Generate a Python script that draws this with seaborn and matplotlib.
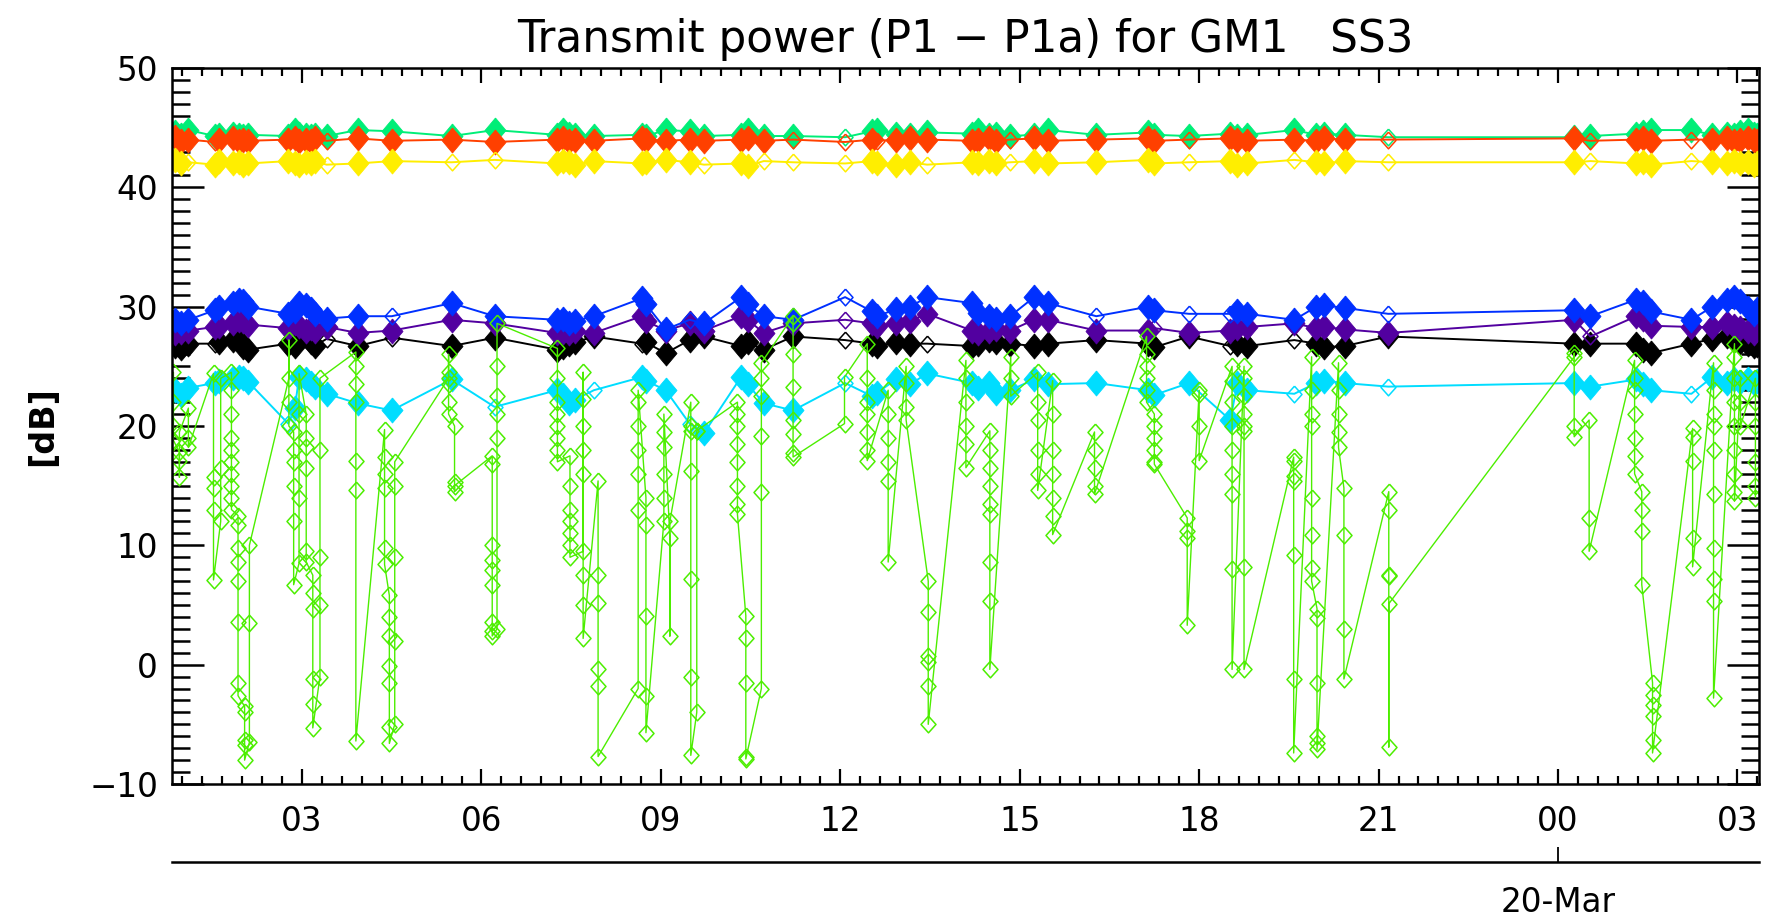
import numpy as np
import pandas as pd
import matplotlib
matplotlib.use("Agg")
import matplotlib.pyplot as plt
import matplotlib.dates as mdates
from matplotlib.ticker import MultipleLocator, FixedLocator, NullLocator, FuncFormatter
from matplotlib.path import Path
import seaborn as sns

# ---------------- data ----------------
DAY0 = pd.Timestamp("2009-03-19")
TITLE = "Transmit power (P1 \u2212 P1a) for GM1   SS3"
Y_LABEL = "[dB]"
DATE_LABEL = "20-Mar"

# sample times (hours since 19-Mar 00:00) shared by the seven steady channels
main_hours = [0.87, 0.98, 1.10, 1.54, 1.62, 1.85, 1.94, 2.02, 2.10, 2.77, 2.88, 2.95,
              3.06, 3.15, 3.21, 3.41, 3.93, 4.50, 5.50, 6.22, 7.26, 7.36, 7.46, 7.56,
              7.88, 8.68, 8.75, 9.08, 9.48, 9.72, 10.34, 10.45, 10.72, 11.21, 12.08, 12.53,
              12.62, 12.93, 13.17, 13.45, 14.20, 14.30, 14.49, 14.60, 14.84, 15.24, 15.47, 16.28,
              17.15, 17.25, 17.83, 18.52, 18.64, 18.80, 19.59, 19.96, 20.08, 20.43, 21.16, 24.27,
              24.54, 25.31, 25.42, 25.55, 26.23, 26.58, 26.82, 26.95, 27.05, 27.17, 27.27, 27.33]

green_vals = [44.6, 44.4, 44.8, 44.3, 44.4, 44.5, 44.4, 44.3, 44.4, 44.3, 44.8, 44.5,
              44.4, 44.3, 44.4, 44.3, 44.8, 44.7, 44.3, 44.8, 44.4, 44.8, 44.5, 44.4,
              44.3, 44.4, 44.3, 44.8, 44.7, 44.3, 44.4, 44.8, 44.3, 44.3, 44.2, 44.7,
              44.8, 44.5, 44.4, 44.6, 44.5, 44.8, 44.4, 44.5, 44.3, 44.4, 44.8, 44.4,
              44.6, 44.4, 44.3, 44.5, 44.3, 44.4, 44.8, 44.4, 44.5, 44.4, 44.2, 44.2,
              44.3, 44.5, 44.6, 44.8, 44.8, 44.4, 44.5, 44.4, 44.6, 44.8, 44.5, 44.4]

red_vals = [44.2, 43.9, 44.0, 43.8, 44.0, 44.1, 43.9, 44.0, 43.9, 44.0, 44.1, 43.9,
            44.0, 43.9, 44.1, 43.9, 44.1, 43.9, 44.0, 43.8, 44.0, 44.1, 43.9, 44.0,
            43.9, 44.1, 44.0, 43.9, 44.0, 43.9, 44.0, 44.1, 43.9, 44.0, 43.8, 44.0,
            43.9, 44.0, 44.1, 44.0, 43.9, 44.0, 44.1, 43.9, 44.0, 44.1, 43.9, 44.0,
            44.1, 43.9, 44.0, 44.1, 44.0, 43.9, 44.0, 43.9, 44.1, 44.0, 44.0, 44.1,
            43.9, 44.0, 44.1, 43.9, 44.0, 44.0, 44.1, 43.9, 44.0, 44.1, 44.0, 43.9]

yellow_vals = [42.3, 42.0, 42.1, 41.9, 42.2, 42.0, 42.1, 41.9, 42.0, 42.2, 42.0, 41.9,
               42.1, 42.0, 42.2, 41.9, 42.0, 42.2, 42.1, 42.3, 42.0, 42.2, 42.1, 41.9,
               42.2, 42.0, 42.1, 42.3, 42.1, 41.9, 42.0, 41.8, 42.2, 42.1, 42.0, 42.2,
               42.0, 41.9, 42.1, 41.9, 42.1, 42.0, 42.2, 42.0, 42.1, 42.2, 42.0, 42.1,
               42.3, 42.0, 42.1, 42.2, 41.9, 42.0, 42.3, 42.1, 42.0, 42.2, 42.1, 42.1,
               42.2, 42.0, 42.1, 41.9, 42.2, 42.1, 42.0, 42.2, 42.0, 42.1, 41.9, 42.0]

blue_vals = [28.9, 28.6, 28.9, 29.7, 30.0, 30.3, 30.6, 30.5, 30.0, 29.4, 29.6, 30.3,
             30.1, 29.8, 29.4, 29.0, 29.2, 29.2, 30.3, 29.2, 28.9, 29.0, 28.6, 28.8,
             29.2, 30.7, 30.2, 28.1, 28.9, 28.6, 30.8, 30.2, 29.2, 28.9, 30.8, 29.6,
             29.2, 29.8, 30.0, 30.8, 30.3, 29.5, 29.2, 29.0, 29.2, 30.8, 30.3, 29.2,
             30.0, 29.7, 29.4, 29.4, 29.6, 29.4, 28.9, 30.0, 30.1, 29.9, 29.4, 29.7,
             29.2, 30.6, 30.4, 29.6, 28.9, 30.0, 30.6, 30.8, 30.5, 29.9, 29.4, 29.8]

purple_vals = [27.8, 27.9, 28.0, 28.3, 28.4, 28.6, 28.9, 28.8, 28.5, 28.2, 28.6, 28.4,
               28.0, 28.2, 28.0, 28.3, 27.8, 28.0, 28.9, 28.6, 27.8, 27.9, 27.8, 28.0,
               27.8, 29.2, 28.8, 28.0, 28.6, 28.0, 29.2, 28.9, 27.8, 28.6, 28.9, 28.6,
               28.4, 28.6, 28.8, 29.4, 28.0, 27.8, 28.0, 28.1, 28.0, 28.9, 28.9, 28.0,
               28.0, 28.2, 27.8, 28.0, 28.2, 28.3, 28.6, 28.2, 28.3, 28.1, 27.8, 28.9,
               27.5, 29.2, 29.0, 28.4, 28.3, 28.3, 28.6, 28.4, 28.2, 28.0, 27.8, 28.1]

black_vals = [26.7, 26.5, 26.9, 26.9, 27.0, 27.2, 27.2, 26.6, 26.4, 26.9, 26.7, 27.3,
              27.5, 27.0, 26.7, 27.3, 26.7, 27.4, 26.7, 27.4, 26.4, 26.6, 26.9, 27.0,
              27.5, 26.9, 27.0, 26.1, 27.2, 27.5, 26.7, 27.0, 26.4, 27.5, 27.2, 26.9,
              26.7, 27.0, 26.9, 26.9, 26.7, 26.9, 27.2, 27.0, 26.9, 26.7, 26.9, 27.2,
              26.9, 26.6, 27.5, 26.7, 26.9, 26.7, 27.2, 26.9, 26.6, 26.7, 27.5, 26.9,
              26.9, 26.9, 26.4, 26.1, 26.9, 27.3, 27.5, 27.2, 27.0, 26.9, 26.7, 26.8]

cyan_vals = [23.0, 22.6, 23.2, 23.6, 23.8, 24.0, 24.1, 24.0, 23.7, 20.2, 21.5, 24.1,
             23.9, 23.6, 23.3, 22.7, 21.9, 21.3, 23.9, 21.6, 23.0, 22.6, 21.9, 22.2,
             23.0, 24.1, 23.8, 23.0, 20.2, 19.4, 24.1, 23.5, 21.9, 21.3, 23.6, 22.5,
             22.8, 23.9, 23.5, 24.4, 23.6, 23.2, 23.6, 22.8, 23.0, 23.9, 23.5, 23.6,
             23.0, 22.6, 23.6, 20.5, 23.6, 23.0, 22.7, 23.6, 23.8, 23.6, 23.3, 23.6,
             23.3, 23.9, 23.5, 23.0, 22.7, 24.1, 23.6, 23.9, 23.7, 23.9, 23.6, 23.8]

# samples drawn as open diamonds (index into main_hours)
green_open = [34, 58]
red_open = [3, 15, 33, 34, 36, 44, 50, 58, 60, 64]
yellow_open = [2, 15, 18, 19, 29, 32, 33, 34, 39, 44, 50, 54, 58, 60, 64]
black_open = [3, 15, 17, 25, 34, 39, 51, 54]
purple_open = [34, 49, 60]
blue_open = [17, 28, 34, 47, 50, 51, 58]
cyan_open = [9, 19, 24, 28, 34, 54, 58, 64]

# the strongly varying channel: burst times and the readings of each burst
lime_hours = [0.85, 0.95, 1.10, 1.52, 1.64, 1.82, 1.93, 2.04, 2.12, 2.78, 2.86, 2.95,
              3.07, 3.18, 3.30, 3.90, 4.38, 4.46, 4.55, 5.45, 5.55, 6.18, 6.26, 7.27,
              7.48, 7.70, 7.95, 8.62, 8.75, 9.05, 9.15, 9.50, 9.60, 10.28, 10.42, 10.68,
              11.21, 12.07, 12.45, 12.80, 13.10, 13.47, 14.10, 14.50, 14.85, 15.30, 15.55, 16.25,
              17.12, 17.25, 17.80, 18.00, 18.55, 18.75, 19.58, 19.88, 19.97, 20.33, 20.42, 21.17,
              24.27, 24.52, 25.28, 25.40, 25.58, 26.25, 26.60, 26.95, 27.05, 27.30]
lime_values = [
    [24.5, 22.0, 20.0, 18.8], [17.8, 17.1, 15.7, 19.5], [21.5, 19.0, 18.2],
    [24.4, 15.7, 14.8, 13.0, 7.1], [12.0, 16.5, 24.0],
    [24.5, 23.0, 21.0, 19.0, 18.0, 17.0, 16.0, 15.0, 14.0, 13.0],
    [12.5, 11.7, 9.8, 8.6, 7.0, 3.6, -1.5, -2.6], [-3.5, -4.0, -6.3, -6.7, -8.0],
    [-6.5, 3.5, 10.0], [24.0, 27.2, 22.0, 20.0], [19.5, 18.0, 17.0, 15.0, 12.0, 6.7],
    [8.5, 14.0, 21.0, 24.4], [21.0, 19.0, 18.2, 16.5, 9.5, 8.6],
    [7.5, 6.0, 4.7, -1.2, -3.3, -5.3], [-1.0, 5.0, 9.0, 18.0, 24.0],
    [26.2, 25.0, 23.5, 22.0, 17.1, 14.6, -6.4], [19.7, 17.4, 16.0, 14.8, 9.8, 8.4],
    [5.8, 4.0, 2.4, -0.1, -1.5, -5.2, -6.6], [-5.0, 2.0, 9.0, 15.0, 17.0],
    [24.0, 26.0, 24.5, 23.5, 22.0, 21.0], [20.0, 15.3, 14.5, 15.0],
    [17.5, 16.8, 10.0, 8.8, 7.9, 6.7, 3.6, 2.8, 2.4], [3.0, 19.0, 21.0, 22.5, 25.0, 28.6],
    [26.5, 24.0, 22.0, 21.0, 20.0, 19.0, 18.0, 17.0], [17.5, 15.0, 13.0, 12.0, 11.0, 10.0, 9.0],
    [9.5, 16.0, 18.0, 20.0, 22.3, 24.5, 7.5, 5.0, 2.2], [15.4, 7.5, 5.2, -0.4, -1.8, -7.7],
    [-2.0, 13.0, 16.0, 18.0, 20.0, 22.0, 23.0], [14.0, 11.7, 4.1, -2.6, -5.7],
    [12.0, 14.0, 16.0, 18.2, 19.5, 21.0], [10.6, 2.4, 12.0],
    [22.0, 20.0, 19.6, 16.2, 7.2, -1.0, -7.6], [-4.0, 19.6, 19.6],
    [22.0, 21.0, 20.0, 18.5, 17.0, 15.0, 13.5, 12.6], [4.1, 2.2, -1.5, -7.7, -7.9],
    [-2.0, 14.5, 19.2, 22.5, 24.0, 25.3], [29.2, 28.6, 26.0, 23.3, 20.5, 19.3, 17.7, 17.4],
    [20.2, 24.1], [26.9, 24.0, 22.0, 21.0, 19.5, 18.0, 17.1],
    [23.0, 21.0, 19.0, 17.0, 15.4, 8.6], [25.0, 23.6, 21.6, 20.5],
    [7.0, 4.4, 0.7, 0.2, -1.8, -5.0], [25.5, 24.0, 22.0, 20.0, 18.5, 16.5],
    [19.6, 18.0, 16.5, 15.0, 13.5, 12.6, 8.6, 5.3, -0.4], [25.8, 24.0, 22.5],
    [24.5, 22.0, 20.5, 18.0, 16.0, 14.6], [23.8, 21.0, 18.0, 16.0, 14.0, 12.5, 10.9],
    [19.5, 18.0, 16.5, 15.0, 14.3], [27.5, 26.0, 25.0, 24.0, 23.0, 22.0],
    [21.0, 20.0, 19.0, 18.0, 17.0, 16.8], [12.3, 11.2, 10.6, 3.3], [23.0, 22.7, 20.0, 17.1],
    [25.0, 23.8, 22.0, 20.0, 18.0, 16.0, 14.3, 8.0, -0.4],
    [25.0, 24.0, 22.5, 21.0, 20.0, 19.6, 8.2, -0.4],
    [17.4, 17.1, 15.8, 15.4, 9.2, -1.2, -7.4], [25.8, 23.0, 21.0, 20.0, 14.0, 10.9, 8.1, 7.0],
    [4.7, 3.9, -1.5, -6.0, -6.6, -7.1], [25.3, 23.0, 21.0, 19.5, 18.2],
    [14.8, 10.9, 3.0, -1.2], [14.5, 13.0, 7.5, 7.4, -6.9, 5.1],
    [25.8, 26.1, 20.0, 19.1], [20.5, 12.3, 9.5],
    [25.5, 24.0, 23.0, 21.0, 19.0, 17.5, 16.0], [14.5, 13.0, 11.2, 6.7],
    [-1.5, -2.5, -3.4, -4.3, -6.3, -7.4], [19.8, 19.1, 17.1, 10.6, 8.2],
    [25.3, 23.0, 21.0, 20.0, 18.0, 14.3, 9.8, 7.2, 5.3, -2.8],
    [26.9, 25.8, 24.0, 22.0, 20.0, 18.0, 16.0, 14.5, 13.7], [24.0, 22.0, 20.0],
    [24.0, 22.0, 20.0, 17.0, 15.0, 14.0],
]

series_order = ["green", "red", "yellow", "black", "purple", "blue", "cyan"]
series_vals = {"green": green_vals, "red": red_vals, "yellow": yellow_vals,
               "black": black_vals, "purple": purple_vals, "blue": blue_vals, "cyan": cyan_vals}
series_open = {"green": green_open, "red": red_open, "yellow": yellow_open,
               "black": black_open, "purple": purple_open, "blue": blue_open, "cyan": cyan_open}
colors = {"green": "#00EE77", "red": "#FF4000", "yellow": "#FFEE00", "black": "#000000",
          "purple": "#5200A0", "blue": "#0030FF", "cyan": "#00DDFF", "lime": "#4CEE00"}

# ---------------- tables ----------------
main_time = DAY0 + pd.to_timedelta(main_hours, unit="h")
frames = []
for name in series_order:
    frames.append(pd.DataFrame({"time": main_time, "value": series_vals[name], "series": name,
                                "open": [i in series_open[name] for i in range(len(main_hours))]}))
df_main = pd.concat(frames, ignore_index=True)

lime_rows = [(h, v) for h, vals in zip(lime_hours, lime_values) for v in vals]
df_lime = pd.DataFrame(lime_rows, columns=["hour", "value"])
df_lime["time"] = DAY0 + pd.to_timedelta(df_lime["hour"], unit="h")

# ---------------- style ----------------
sns.set_style("white")
plt.rcParams["font.family"] = ["DejaVu Sans"]
plt.rcParams["axes.unicode_minus"] = True
plt.rcParams["text.color"] = "black"
plt.rcParams["axes.labelcolor"] = "black"
plt.rcParams["xtick.color"] = "black"
plt.rcParams["ytick.color"] = "black"

W, H = 1781, 922
fig = plt.figure(figsize=(W / 100, H / 100), dpi=100)
ax = fig.add_axes([172 / W, 1 - 784 / H, (1759 - 172) / W, (784 - 68) / H])
ax.set_facecolor("white")

DIAMOND_F = Path([(0, 1), (0.84, 0), (0, -1), (-0.84, 0), (0, 1)])
DIAMOND_O = Path([(0, 1), (0.9, 0), (0, -1), (-0.9, 0), (0, 1)])

common = dict(x="time", y="value", sort=False, estimator=None, errorbar=None, ax=ax, legend=False)

for name in series_order:
    c = colors[name]
    sub = df_main[df_main["series"] == name]
    sns.lineplot(data=sub, color=c, linewidth=1.4, **common)
    sns.lineplot(data=sub[~sub["open"]], color=c, linestyle="none", marker=DIAMOND_F,
                 markersize=18, markerfacecolor=c, markeredgecolor=c, markeredgewidth=0.6, **common)
    sns.lineplot(data=sub[sub["open"]], color=c, linestyle="none", marker=DIAMOND_O,
                 markersize=12, markerfacecolor="none", markeredgecolor=c, markeredgewidth=1.1, **common)

cl = colors["lime"]
sns.lineplot(data=df_lime, color=cl, linewidth=1.0, **common)
sns.lineplot(data=df_lime, color=cl, linestyle="none", marker=DIAMOND_O, markersize=12,
             markerfacecolor="none", markeredgecolor=cl, markeredgewidth=1.1, **common)

# ---------------- axes ----------------
ax.set_xlim(DAY0 + pd.Timedelta(hours=0.826), DAY0 + pd.Timedelta(hours=27.36))
ax.set_ylim(-10, 50)
ax.xaxis.set_major_locator(mdates.HourLocator(byhour=range(0, 24, 3)))
ax.xaxis.set_major_formatter(mdates.DateFormatter("%H"))
ax.xaxis.set_minor_locator(mdates.MinuteLocator(byminute=[0, 20, 40]))
ax.yaxis.set_major_locator(MultipleLocator(10))
ax.yaxis.set_minor_locator(MultipleLocator(1))

ax.tick_params(axis="x", which="both", direction="in", top=True, bottom=True, color="black")
ax.tick_params(axis="x", which="major", length=10.8, width=1.6, pad=15, labelsize=23.5,
               labelcolor="black")
ax.tick_params(axis="x", which="minor", length=6, width=1.6)
ax.tick_params(axis="y", which="both", direction="in", left=True, right=True, color="black")
ax.tick_params(axis="y", which="major", length=23, width=1.8, pad=10, labelsize=23.5,
               labelcolor="black")
ax.tick_params(axis="y", which="minor", length=13, width=1.8)
for sp in ax.spines.values():
    sp.set_visible(True)
    sp.set_color("black")
    sp.set_linewidth(1.8)

ax.set_xlabel("")
ax.set_ylabel(Y_LABEL, fontsize=24, fontweight="bold", color="black")
ax.yaxis.set_label_coords(-0.071, 0.5)
ax.set_title(TITLE, fontsize=31.5, pad=11.5, color="black")

# secondary date axis below
sec = ax.secondary_xaxis(-(862 - 784) / (784 - 68))
day2 = mdates.date2num(DAY0 + pd.Timedelta(days=1))
sec.xaxis.set_major_locator(FixedLocator([day2]))
sec.xaxis.set_major_formatter(FuncFormatter(lambda x, p: DATE_LABEL))
sec.xaxis.set_minor_locator(NullLocator())
sec.tick_params(axis="x", direction="in", length=10.8, width=1.3, pad=17, labelsize=23.5,
                color="black", labelcolor="black")
sec.spines["bottom"].set_linewidth(1.8)
sec.spines["bottom"].set_color("black")

fig.savefig("out.png", dpi=100, facecolor="white")
